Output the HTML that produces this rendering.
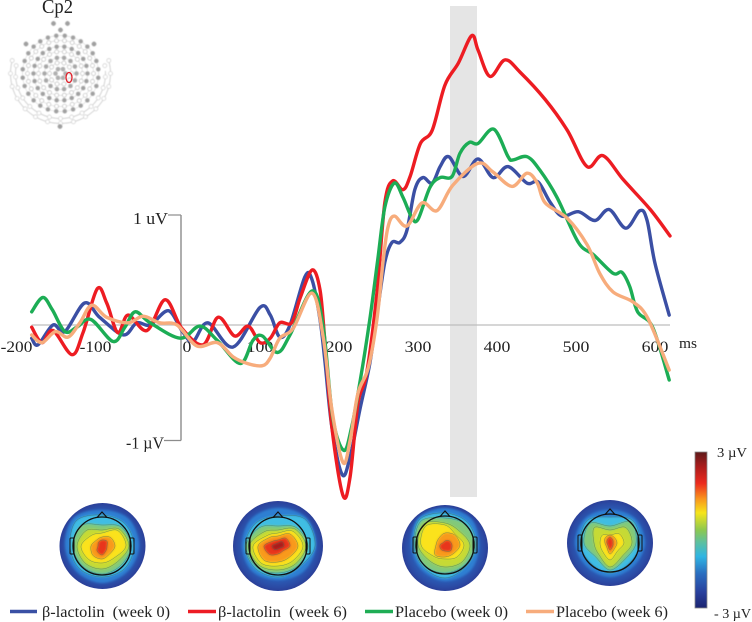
<!DOCTYPE html>
<html>
<head>
<meta charset="utf-8">
<title>ERP at Cp2</title>
<style>
html,body{margin:0;padding:0;background:#fff;}
svg{display:block;}
text{font-family:"Liberation Serif",serif;fill:#222;}
</style>
</head>
<body>
<svg id="chart" xmlns="http://www.w3.org/2000/svg" width="752" height="622" viewBox="0 0 752 622">
  <defs>
    <filter id="soft" x="-20%" y="-20%" width="140%" height="140%"><feGaussianBlur stdDeviation="1.1"/></filter>
    <filter id="lineSoft" x="-5%" y="-5%" width="110%" height="110%"><feGaussianBlur stdDeviation="0.3"/></filter>
    <filter id="montageSoft" x="-5%" y="-5%" width="110%" height="110%"><feGaussianBlur stdDeviation="0.4"/></filter>
    <linearGradient id="cbar" x1="0" y1="0" x2="0" y2="1">
      <stop offset="0" stop-color="#5e1a1a"/>
      <stop offset="0.09" stop-color="#a81c1c"/>
      <stop offset="0.2" stop-color="#ec2a1e"/>
      <stop offset="0.3" stop-color="#f9951d"/>
      <stop offset="0.39" stop-color="#f6e51b"/>
      <stop offset="0.5" stop-color="#8cc850"/>
      <stop offset="0.58" stop-color="#5cc0a0"/>
      <stop offset="0.67" stop-color="#2fb5e3"/>
      <stop offset="0.78" stop-color="#2a6dc0"/>
      <stop offset="0.9" stop-color="#283f9c"/>
      <stop offset="1" stop-color="#1b2470"/>
    </linearGradient>
    <radialGradient id="disk" cx="0.5" cy="0.5" r="0.5">
      <stop offset="0.7" stop-color="#2b62bc"/>
      <stop offset="0.92" stop-color="#2b4aa4"/>
      <stop offset="1" stop-color="#2b3f98"/>
    </radialGradient>
  </defs>

  <rect x="450" y="6" width="27" height="491" fill="#e5e5e5"/>

  <g id="axes"></g>
  <g id="lines" filter="url(#lineSoft)"></g>

  <text x="42" y="13" font-size="20" textLength="31" lengthAdjust="spacingAndGlyphs">Cp2</text>
  <g id="montage" filter="url(#montageSoft)"></g>
  <ellipse cx="69" cy="77.5" rx="3" ry="5" fill="none" stroke="#e0202a" stroke-width="1.3"/>

  <g id="maps"></g>

  <rect x="695" y="452" width="12" height="156" fill="url(#cbar)" stroke="#8a8a8a" stroke-width="0.8"/>
  <text x="717" y="457" font-size="13.5" textLength="30" lengthAdjust="spacingAndGlyphs">3 µV</text>
  <text x="714" y="618" font-size="13.5" textLength="37" lengthAdjust="spacingAndGlyphs">- 3 µV</text>

  <g>
    <line x1="10" x2="37" y1="611.5" y2="611.5" stroke="#3a50a4" stroke-width="3.4"/>
    <text x="42" y="617" font-size="16" textLength="128" lengthAdjust="spacingAndGlyphs" xml:space="preserve">β-lactolin  (week 0)</text>
    <line x1="188" x2="216" y1="611.5" y2="611.5" stroke="#ed1c24" stroke-width="3.4"/>
    <text x="218" y="617" font-size="16" textLength="129" lengthAdjust="spacingAndGlyphs" xml:space="preserve">β-lactolin  (week 6)</text>
    <line x1="365" x2="393" y1="611.5" y2="611.5" stroke="#1fad55" stroke-width="3.4"/>
    <text x="395" y="617" font-size="16" textLength="113" lengthAdjust="spacingAndGlyphs">Placebo (week 0)</text>
    <line x1="526" x2="554" y1="611.5" y2="611.5" stroke="#f7ac7c" stroke-width="3.4"/>
    <text x="556" y="617" font-size="16" textLength="112" lengthAdjust="spacingAndGlyphs">Placebo (week 6)</text>
  </g>
</svg>

<script>
// ---- chart data (time in ms, amplitude in µV) ----
const xTickLabels = [-200, -100, 0, 100, 200, 300, 400, 500, 600];
const yAxisEnds = [1, -1.05];
const yAxisLabels = ["1 uV", "-1 µV"];

const blueMs = [-189,-181,-162,-147,-122,-103,-73,-56,-39,-16,1,15,34,66,100,113,125,138,157,166,176,182,191,204,214,227,239,249,258,267,277,286,296,306,318,328,339,357,376,395,414,438,452,467,482,503,524,542,563,581,590,600,618];
const blueUv = [-0.12,-0.18,0,-0.06,0.20,0.07,-0.09,0.02,0,0.13,-0.05,-0.15,0.02,-0.20,0.16,0.09,-0.11,0,0.44,0.41,0.05,-0.32,-0.93,-1.36,-1.20,-0.75,-0.35,0.14,0.57,0.75,0.75,0.86,1.23,1.34,1.29,1.44,1.53,1.35,1.51,1.34,1.44,1.29,1.30,1.12,0.99,1.03,0.95,1.05,0.88,1.04,0.95,0.56,0.09];

const redMs = [-189,-176,-162,-138,-124,-106,-94,-80,-67,-43,-20,1,28,47,68,85,100,113,125,140,151,166,176,182,191,205,214,224,235,248,258,268,281,290,303,318,334,351,368,376,391,410,429,461,489,514,534,560,594,619];
const redUv = [-0.02,-0.16,-0.05,-0.27,-0.07,0.33,0.20,-0.07,0.09,-0.05,0.23,-0.03,-0.18,0.07,-0.10,-0.01,-0.16,-0.12,0.02,0.02,0.25,0.50,0.32,-0.14,-0.93,-1.55,-1.38,-0.71,-0.44,0.29,1.11,1.31,1.23,1.35,1.65,1.77,2.18,2.38,2.63,2.50,2.26,2.41,2.30,2.05,1.77,1.44,1.54,1.32,1.05,0.81];

const greenMs = [-189,-175,-163,-147,-132,-114,-86,-71,-58,-39,-1,24,46,75,91,103,122,138,166,180,192,206,216,227,239,249,258,270,281,292,300,315,328,343,353,365,376,396,414,420,438,454,476,503,522,547,558,568,578,597,618];
const greenUv = [0.12,0.25,0.14,-0.06,-0.02,0.05,-0.15,-0.02,0.12,0.02,-0.12,-0.01,-0.14,-0.35,-0.14,-0.10,-0.25,-0.09,0.31,-0.02,-0.84,-1.14,-0.93,-0.50,0.05,0.59,1.07,1.29,1.16,0.98,0.96,1.25,1.34,1.35,1.56,1.66,1.65,1.78,1.53,1.50,1.53,1.41,1.16,0.75,0.64,0.47,0.48,0.35,0.12,-0.02,-0.50];

const orangeMs = [-189,-176,-159,-143,-128,-113,-94,-67,-48,-27,-5,20,46,66,84,103,113,125,142,166,180,191,205,214,224,237,248,256,262,270,286,305,324,344,376,395,419,438,451,461,489,514,530,547,572,591,618];
const orangeUv = [-0.09,-0.16,-0.06,-0.11,0.02,0.18,0.07,0.02,0.08,0.02,0,-0.19,-0.16,-0.29,-0.35,-0.37,-0.30,-0.12,-0.03,0.29,-0.11,-0.77,-1.25,-1.05,-0.62,-0.39,0.05,0.59,0.89,0.99,0.90,1.11,1.04,1.27,1.47,1.39,1.26,1.38,1.29,1.11,0.97,0.73,0.47,0.30,0.21,0.06,-0.41];

// ---- topographic maps: contour radii at 8 bearings (top, clockwise) ----
const map1Levels = [[36,38,37,36,37,36,37,40],[31,32,32,32,31,32,32,36],[21,27,29,27,28,28,29,29],[16,24,27,22,23,24,25,22],[13,22,24,17,17,19,21,15],[9,12,13,11,13,13,11,8],[6,7,5,6,9,7,4,5]];
const map2Levels = [[38,40,38,36,34,36,36,38],[30,38,37,30,31,32,33,32],[20,26,30,28,27,30,32,26],[16,24,28,25,24,27,29,20],[13,21,25,21,20,24,25,15],[10,17,20,16,16,20,20,12],[6,11,12,7,8,12,14,7],[3,6,6,3,3,5,6,3]];
const map3Levels = [[37,37,34,36,36,34,34,38],[32,32,31,30,33,31,31,36],[27,29,30,28,28,29,30,34],[22,20,25,24,22,22,27,30],[20,15,19,17,14,16,24,27],[12,14,15,12,12,14,9,9],[4,6,7,8,6,6,5,3]];
const map4Levels = [[33,35,35,33,34,33,35,35],[26,32,30,28,30,28,30,32],[17,30,26,22,27,20,26,28],[13,22,22,18,24,16,16,22],[8,13,14,11,17,11,10,11],[8,7,7,7,11,5,5,7],[6,4,3,4,7,3,3,4]];
const levelColors = ["#2e7fd2","#3fbde3","#82c97a","#c6da34","#fbe21c","#f89a1e","#e8351f","#a81a1a"];

const NS = "http://www.w3.org/2000/svg";
const x = ms => 181 + ms * 0.79;
const y = uv => 325 - uv * 110;

function make(tag, attrs, parent) {
  const el = document.createElementNS(NS, tag);
  for (const k in attrs) el.setAttribute(k, attrs[k]);
  parent.appendChild(el);
  return el;
}

function splinePath(pts, closed) {
  const n = pts.length;
  const at = i => closed ? pts[(i + n) % n] : pts[Math.max(0, Math.min(n - 1, i))];
  let d = "M" + pts[0][0].toFixed(1) + " " + pts[0][1].toFixed(1);
  const last = closed ? n : n - 1;
  for (let i = 0; i < last; i++) {
    const p0 = at(i - 1), p1 = at(i), p2 = at(i + 1), p3 = at(i + 2);
    d += "C" + (p1[0] + (p2[0] - p0[0]) / 6).toFixed(1) + " " + (p1[1] + (p2[1] - p0[1]) / 6).toFixed(1) +
         " " + (p2[0] - (p3[0] - p1[0]) / 6).toFixed(1) + " " + (p2[1] - (p3[1] - p1[1]) / 6).toFixed(1) +
         " " + p2[0].toFixed(1) + " " + p2[1].toFixed(1);
  }
  return d + (closed ? "Z" : "");
}

// ---- axes ----
const axes = document.getElementById("axes");
const baseline = make("line", {x1: x(-189), x2: x(619), y1: y(0), y2: y(0), stroke: "#bdbdbd", "stroke-width": 1.2}, axes);


const yLine = make("line", {x1: x(0), x2: x(0), y1: y(yAxisEnds[0]), y2: y(yAxisEnds[1]), stroke: "#8c8c8c", "stroke-width": 1.4}, axes);



yAxisEnds.forEach((v, i) => {
  const left = i === 0 ? 168 : 164;
  const tick = make("line", {x1: left, x2: x(0), y1: y(v), y2: y(v), stroke: "#8c8c8c", "stroke-width": 1.2}, axes);
  
  
  const label = make("text", {x: i === 0 ? 133 : 126, y: y(v) + 9 - i, "font-size": 16.5, textLength: i === 0 ? 35 : 38, lengthAdjust: "spacingAndGlyphs"}, axes);
  label.textContent = yAxisLabels[i];
  
  
});

xTickLabels.forEach(t => {
  const nudge = t < 0 ? -6.5 : (t === 0 ? 6 : 0);
  const text = String(t);
  const width = String(Math.abs(t)).length * 8.9 + (t < 0 ? 5 : 0);
  const label = make("text", {x: x(t) + nudge, y: 352, "font-size": 16, "text-anchor": "middle", textLength: width, lengthAdjust: "spacingAndGlyphs"}, axes);
  label.textContent = text;
  
  
});
const unit = make("text", {x: 679, y: 348, "font-size": 14.5, textLength: 18, lengthAdjust: "spacingAndGlyphs"}, axes);
unit.textContent = "ms";



// ---- series ----
const lineLayer = document.getElementById("lines");
function drawSeries(msArr, uvArr, color, name) {
  const pts = msArr.map((m, i) => [x(m), y(uvArr[i])]);
  const p = make("path", {d: splinePath(pts, false), fill: "none", stroke: color, "stroke-width": 3.4, "stroke-linejoin": "round", "stroke-linecap": "round"}, lineLayer);
  
  
}
drawSeries(blueMs, blueUv, "#3a50a4", "line-beta-lactolin-week-0");
drawSeries(redMs, redUv, "#ed1c24", "line-beta-lactolin-week-6");
drawSeries(greenMs, greenUv, "#1fad55", "line-placebo-week-0");
drawSeries(orangeMs, orangeUv, "#f7ac7c", "line-placebo-week-6");

// ---- electrode montage ----
const montage = document.getElementById("montage");
const mx = 60.5, my = 73.5;
[[50, 210], [45, 200]].forEach(([r, sweep]) => {
  const pts = [];
  for (let a = -sweep / 2; a <= sweep / 2; a += sweep / 30) {
    const rad = a * Math.PI / 180;
    pts.push([mx + r * Math.sin(rad), my + r * Math.cos(rad)]);
  }
  const arc = make("path", {d: splinePath(pts, false), fill: "none", stroke: "#cfcfcf", "stroke-width": 0.9}, montage);
  
  
  for (let i = 0; i <= 14; i++) {
    const rad = (-sweep / 2 + i * sweep / 14) * Math.PI / 180;
    const dot = make("circle", {cx: mx + r * Math.sin(rad), cy: my + r * Math.cos(rad), r: 2, fill: "#fff", stroke: "#c4c4c4", "stroke-width": 0.6}, montage);
    
    
  }
});
[[5, 6, "#b0b0b0"], [11, 10, "#fff"], [16, 14, "#a8a8a8"], [22, 18, "#fff"], [27, 22, "#a0a0a0"], [33, 26, "#fff"], [38, 28, "#a0a0a0"]].forEach(([r, n, fill]) => {
  const ring = make("circle", {cx: mx, cy: my, r: r, fill: "none", stroke: "#dcdcdc", "stroke-width": 0.7}, montage);
  
  
  for (let i = 0; i < n; i++) {
    const a = (i + 0.5) / n * 2 * Math.PI;
    const dot = make("circle", {cx: mx + r * Math.sin(a), cy: my - r * Math.cos(a), r: 2, fill: fill, stroke: "#b0b0b0", "stroke-width": 0.6}, montage);
    
    
  }
});
[[53.5, 23.5], [67.5, 23.5], [60.5, 30], [60, 126.5], [26, 44], [94, 44]].forEach(([cx, cy]) => {
  const dot = make("circle", {cx: cx, cy: cy, r: 2.2, fill: "#a0a0a0", stroke: "#aaa", "stroke-width": 0.5}, montage);
  
  
});

// ---- topographic maps ----
const mapsLayer = document.getElementById("maps");
function drawMap(cx, cy, R, hx, hy, levels, name) {
  const g = make("g", {}, mapsLayer);
  
  
  const disk = make("circle", {cx: cx, cy: cy, r: R, fill: "url(#disk)"}, g);
  
  
  levels.forEach((radii, li) => {
    const pts = radii.map((r, i) => {
      const a = i / 8 * 2 * Math.PI;
      return [hx + r * Math.sin(a), hy - r * Math.cos(a)];
    });
    const d = splinePath(pts, true);
    const area = make("path", {d: d, fill: levelColors[li], filter: "url(#soft)"}, g);
    
    
    if (li >= 1) {
      const contour = make("path", {d: d, fill: "none", stroke: "#3f6f5a", "stroke-width": 0.5, opacity: 0.7}, g);
      
      
    }
  });
  const r = 29;
  const head = make("circle", {cx: hx, cy: hy, r: r, fill: "none", stroke: "#111", "stroke-width": 1.3}, g);
  
  
  const nose = make("path", {d: "M" + (hx - 5) + " " + (hy - r + 0.5) + "L" + hx + " " + (hy - r - 5) + "L" + (hx + 5) + " " + (hy - r + 0.5), fill: "none", stroke: "#111", "stroke-width": 1.1}, g);
  
  
  [-1, 1].forEach(side => {
    const ear = make("rect", {x: side < 0 ? hx - r - 3 : hx + r - 1, y: hy - 8, width: 4, height: 16, rx: 1, fill: "none", stroke: "#111", "stroke-width": 1}, g);
    
    
  });
}
drawMap(102.5, 546, 43, 102, 546, map1Levels, "topomap-beta-lactolin-week-0");
drawMap(278, 546, 45, 278, 546, map2Levels, "topomap-beta-lactolin-week-6");
drawMap(445, 548, 43, 445, 545, map3Levels, "topomap-placebo-week-0");
drawMap(610, 543, 43, 610, 543, map4Levels, "topomap-placebo-week-6");
</script>
</body>
</html>
